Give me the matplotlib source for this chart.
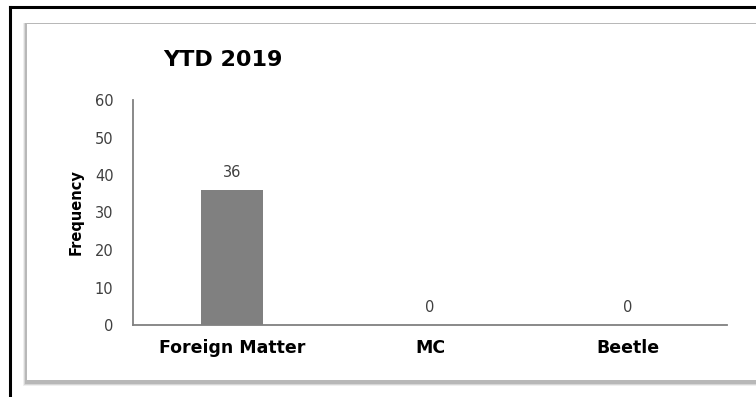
import matplotlib
matplotlib.use("Agg")
import matplotlib.pyplot as plt
from matplotlib.patches import Rectangle
from matplotlib.lines import Line2D
import numpy as np

categories = ["Foreign Matter", "MC", "Beetle"]
values = [36, 0, 0]
yticks = [0, 10, 20, 30, 40, 50, 60]

plt.rcParams['font.family'] = ['DejaVu Sans']

W, H = 756, 397
fig = plt.figure(figsize=(W / 100, H / 100), dpi=100)

def fx(px):
    return px / W

def fy(py):
    return 1 - py / H

# outer black frame (top and left only)
fig.add_artist(Line2D([fx(10), 1], [fy(7), fy(7)], color='black', lw=2.2, transform=fig.transFigure))
fig.add_artist(Line2D([fx(10), fx(10)], [fy(7), 0], color='black', lw=2.2, transform=fig.transFigure))

# panel with soft shadow
for i, a in enumerate([0.12, 0.22, 0.35]):
    d = 3 - i
    fig.add_artist(Rectangle((fx(26 - d), fy(383 + d)), fx(756 - 26 + d), fy(23) - fy(383 + d),
                             transform=fig.transFigure, facecolor='#808080', alpha=a,
                             edgecolor='none', zorder=0))
fig.add_artist(Rectangle((fx(27), fy(380)), fx(756 - 27), fy(24) - fy(380),
                         transform=fig.transFigure, facecolor='white', edgecolor='none', zorder=0))

ax = fig.add_axes([fx(133), fy(325), fx(727 - 133), fy(100) - fy(325)])
ax.set_facecolor('none')

x = np.arange(len(categories))
bars = ax.bar(x, values, width=0.31, color='#808080', zorder=2)
ax.set_xlim(-0.5, len(categories) - 0.5)
ax.set_ylim(0, 60)
ax.set_yticks(yticks)
ax.set_xticks(x)
ax.set_xticklabels(categories, fontsize=12.5, fontweight='bold', color='black')
ax.tick_params(axis='y', length=0, labelsize=10.5, labelcolor='#404040', pad=14)
ax.tick_params(axis='x', length=0, pad=10)

for s in ['top', 'right']:
    ax.spines[s].set_visible(False)
for s in ['left', 'bottom']:
    ax.spines[s].set_color('#808080')
    ax.spines[s].set_linewidth(1.3)

for b, v in zip(bars, values):
    ax.annotate(str(v), (b.get_x() + b.get_width() / 2, v), xytext=(0, 7),
                textcoords='offset points', ha='center', va='bottom',
                fontsize=10.5, color='#404040')

ax.set_ylabel("Frequency", fontsize=10.5, fontweight='bold', color='black', labelpad=8)
fig.text(fx(163), fy(60), "YTD 2019", fontsize=16, fontweight='bold', color='black',
         ha='left', va='center')

fig.savefig("out.png", dpi=100)
